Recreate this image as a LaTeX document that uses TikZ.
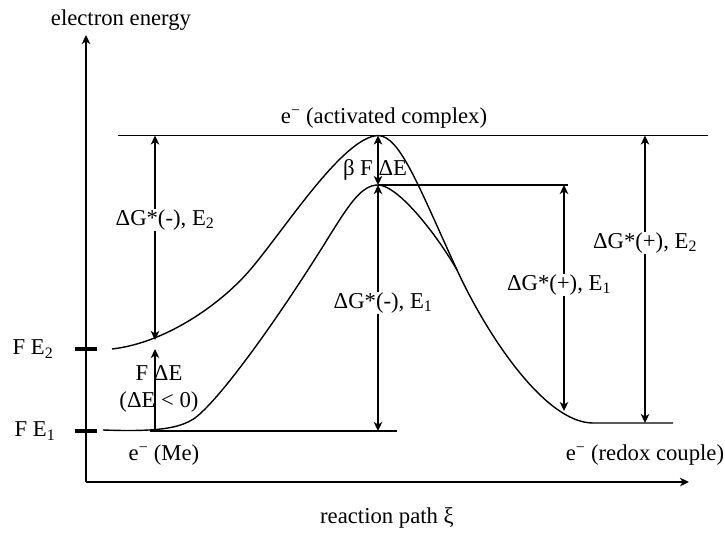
\documentclass[tikz,border=0pt]{standalone}
\usepackage{fontspec}
\setmainfont{Liberation Serif}
\usetikzlibrary{arrows.meta}
\begin{document}
\begin{tikzpicture}[x=1pt,y=-1pt,
  lbl/.style={font=\fontsize{22.7}{26}\selectfont, inner sep=1pt},
  gap/.style={lbl, fill=white},
  ln/.style={line width=1.4pt},
  tip/.tip={Stealth[length=9pt,width=8.5pt,inset=2.5pt]},
  arr/.style={ln, -tip},
  darr/.style={ln, tip-tip},
  tick/.style={line width=3.5pt},
  crv/.style={line width=1.4pt}]
\useasboundingbox (0,0) rectangle (725,538);
% coordinates
\coordinate (O) at (86,482);
\coordinate (Ytop) at (86,35);
\coordinate (Xend) at (689,482);
\coordinate (topL) at (118,135.5);
\coordinate (topR) at (708,135.5);
\coordinate (pk2) at (378,135.5);
\coordinate (pk1) at (378,185);
\coordinate (midR) at (568,185);
\coordinate (b1) at (155,340);
\coordinate (t1) at (155,135.5);
\coordinate (fe1a) at (155,431);
\coordinate (fe2a) at (155,349);
\coordinate (baseL) at (150,431);
\coordinate (a3b) at (378,431);
\coordinate (baseR) at (397,431);
\coordinate (a4t) at (564,185);
\coordinate (a4b) at (564,411);
\coordinate (a5t) at (645,135.5);
\coordinate (a5b) at (645,423);
\coordinate (tk2a) at (75,349); \coordinate (tk2b) at (97,349);
\coordinate (tk1a) at (75,431); \coordinate (tk1b) at (97,431);
% axes
\draw[arr] (O) -- (Ytop);
\draw[arr] (O) -- (Xend);
\draw[tick] (tk2a) -- (tk2b);
\draw[tick] (tk1a) -- (tk1b);
% levels
\draw[ln] (topL) -- (topR);
\draw[ln] (pk1) -- (midR);
\draw[ln] (baseL) -- (baseR);
% upper curve (E2)
\draw[crv] (112,349) .. controls (165,343) and (220,305) .. (250,270)
  .. controls (285,229) and (343,137) .. (378,135.5)
  .. controls (400,136) and (418,185) .. (457,270)
  .. controls (487,335) and (545,423) .. (593,423) -- (673,423);
% lower curve (E1)
\draw[crv] (103,430) .. controls (160,432) and (180,428) .. (195,418)
  .. controls (225,395) and (290,300) .. (330,235)
  .. controls (350,203) and (362,185) .. (378,185)
  .. controls (398,185) and (437,235) .. (457,270);
% arrows
\draw[darr] (b1) -- (t1);
\node[gap] (g1) at (165,220) {ΔG*(-), E\textsubscript{2}};
\draw[arr] (fe1a) -- (fe2a);
\draw[darr] (pk1) -- (pk2);
\draw[darr] (a3b) -- (pk1);
\node[gap] (g2) at (383,303) {ΔG*(-), E\textsubscript{1}};
\draw[darr] (a4b) -- (a4t);
\node[gap] (g3) at (559,285) {ΔG*(+), E\textsubscript{1}};
\draw[darr] (a5b) -- (a5t);
\node[gap] (g4) at (645,243) {ΔG*(+), E\textsubscript{2}};
% labels
\node[lbl] (ee) at (121,20) {electron energy};
\node[lbl] (ac) at (384,118) {e\textsuperscript{−} (activated complex)};
\node[lbl] (bf) at (375,170) {β F ΔE};
\node[lbl] (fe2) at (33,349) {F E\textsubscript{2}};
\node[lbl] (fe1) at (35,431) {F E\textsubscript{1}};
\node[lbl] (fde) at (159,373) {F ΔE};
\node[lbl] (fdl) at (159,402) {(ΔE < 0)};
\node[lbl] (me) at (164,455) {e\textsuperscript{−} (Me)};
\node[lbl] (rc) at (645,455) {e\textsuperscript{−} (redox couple)};
\node[lbl] (rp) at (387,518) {reaction path ξ};
\end{tikzpicture}
\end{document}
